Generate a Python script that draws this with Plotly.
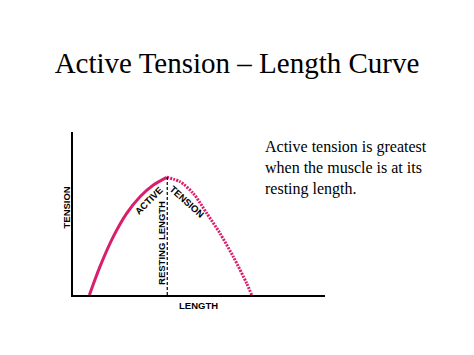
import plotly.graph_objects as go

# Data (arbitrary units: length 0-100 along x axis, tension 0-100 along y axis)
ascending_length = [6.5, 10.7, 16.0, 21.3, 26.6, 31.9, 37.2]
ascending_tension = [0.0, 17.4, 35.8, 50.1, 60.3, 67.5, 72.2]
descending_length = [37.2, 42.5, 47.7, 53.1, 58.3, 63.6, 68.9, 70.9]
descending_tension = [72.2, 69.5, 62.4, 50.1, 37.9, 23.5, 7.2, 0.0]
resting_length = 37.4
peak_tension = 72.2

CURVE = "#d81f6c"

fig = go.Figure()
fig.add_trace(go.Scatter(x=ascending_length, y=ascending_tension, mode="lines",
                         line=dict(color=CURVE, width=3, shape="spline", smoothing=0.8),
                         hoverinfo="skip", showlegend=False))
fig.add_trace(go.Scatter(x=descending_length, y=descending_tension, mode="lines",
                         line=dict(color=CURVE, width=3, shape="spline", smoothing=0.8, dash="2px,1.2px"),
                         hoverinfo="skip", showlegend=False))
fig.add_trace(go.Scatter(x=[resting_length, resting_length], y=[0, peak_tension], mode="lines",
                         line=dict(color="black", width=1.2, dash="3px,2px"),
                         hoverinfo="skip", showlegend=False))

axis = dict(showline=True, linecolor="black", linewidth=2, showgrid=False, zeroline=False,
            showticklabels=False, ticks="", range=[0, 100], fixedrange=True)

label_font = dict(family="Liberation Sans, Arial", size=9.5, color="black")
serif = "Liberation Serif, Times New Roman, serif"


def label(text, x, y, angle=0):
    return dict(text="<b>" + text + "</b>", xref="paper", yref="paper", x=x, y=y,
                xanchor="center", yanchor="middle", textangle=angle,
                showarrow=False, font=label_font)


fig.update_layout(
    width=474, height=355,
    margin=dict(l=73, r=149, t=132, b=60),
    paper_bgcolor="white", plot_bgcolor="white",
    xaxis=axis, yaxis=axis,
    title=dict(text="Active Tension – Length Curve", x=0.5, xref="container", xanchor="center",
               y=1 - 63 / 355, yref="container", yanchor="middle",
               font=dict(family=serif, size=29, color="black")),
    annotations=[
        dict(text="Active tension is greatest<br>when the muscle is at its<br>resting length.",
             xref="paper", yref="paper", x=0.754, y=0.975, xanchor="left", yanchor="top",
             align="left", showarrow=False, font=dict(family=serif, size=16, color="black")),
        label("TENSION", -0.025, 0.535, -90),
        label("LENGTH", 0.498, -0.067),
        label("RESTING LENGTH", 0.349, 0.319, -90),
        label("ACTIVE", 0.300, 0.582, -45),
        label("TENSION", 0.452, 0.575, 42),
    ],
)

fig.write_html("out.html")
